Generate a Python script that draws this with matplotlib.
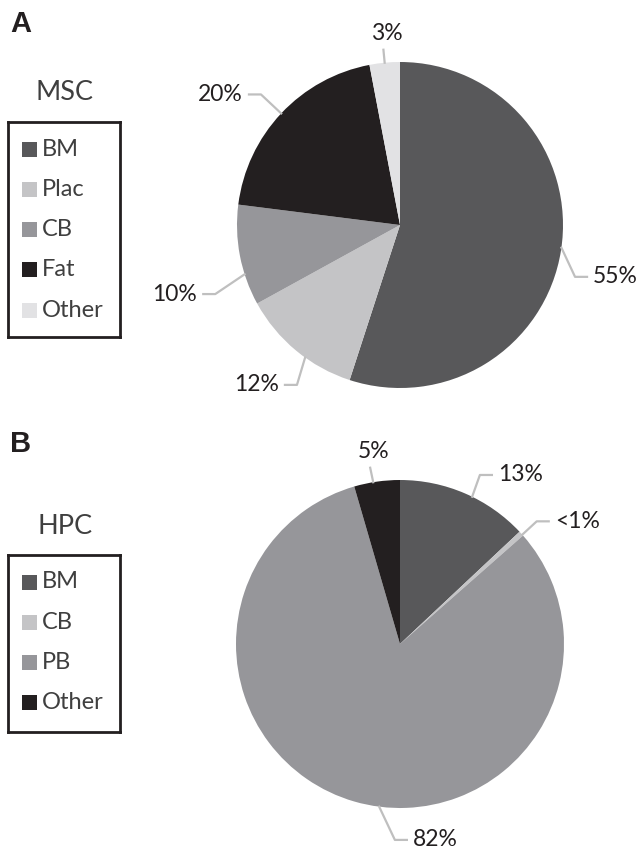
import matplotlib
matplotlib.use("Agg")
import matplotlib.pyplot as plt
import numpy as np

# data
msc_sources = ["BM", "Plac", "CB", "Fat", "Other"]
msc_values = [55, 12, 10, 20, 3]
msc_labels = ["55%", "12%", "10%", "20%", "3%"]
msc_colors = ["#58585a", "#c4c4c6", "#96969a", "#231f20", "#e2e2e4"]

hpc_sources = ["BM", "CB", "PB", "Other"]
hpc_values = [13, 0.5, 82, 4.5]
hpc_labels = ["13%", "<1%", "82%", "5%"]
hpc_colors = ["#58585a", "#c4c4c6", "#96969a", "#231f20"]

W, H = 644, 852
FONT = "Lato"
TXT = "#3f3f3f"
LEAD = "#bfbfbf"

fig = plt.figure(figsize=(W / 100, H / 100), dpi=100)


def px_axes(x, y, w, h):
    return fig.add_axes([x / W, 1 - (y + h) / H, w / W, h / H])


def draw_pie(cx, cy, r, values, colors, labels, layout):
    ax = px_axes(cx - r, cy - r, 2 * r, 2 * r)
    wedges, _ = ax.pie(values, colors=colors, startangle=90, counterclock=False,
                       wedgeprops=dict(linewidth=0))
    ax.set_xlim(-1, 1)
    ax.set_ylim(-1, 1)
    ax.set_aspect("equal")
    ax.axis("off")
    seg = 12 / r
    gap = 6 / r
    for w, lab, (s_shift, e_shift, e_r, side) in zip(wedges, labels, layout):
        mid = (w.theta1 + w.theta2) / 2
        a0 = np.radians(mid + s_shift)
        a1 = np.radians(mid + e_shift)
        x0, y0 = np.cos(a0), np.sin(a0)
        x1, y1 = e_r * np.cos(a1), e_r * np.sin(a1)
        if side == "up":
            ax.plot([x0, x1], [y0, y1], color=LEAD, lw=1.6, clip_on=False)
            ax.text(x1 + 3 / r, y1 + gap, lab, ha="center", va="bottom",
                    fontsize=16.5, family=FONT, color="#231f20")
        else:
            d = 1 if side == "right" else -1
            x2 = x1 + d * seg
            ax.plot([x0, x1, x2], [y0, y1, y1], color=LEAD, lw=1.6, clip_on=False)
            ax.text(x2 + d * gap, y1, lab, ha="left" if d > 0 else "right",
                    va="center", fontsize=16.5, family=FONT, color="#231f20")
    return ax


def draw_legend(x, y, w, h, names, colors, title):
    lg = px_axes(x, y, w, h)
    lg.set_xlim(0, w)
    lg.set_ylim(h, 0)
    lg.set_xticks([])
    lg.set_yticks([])
    for sp in lg.spines.values():
        sp.set_linewidth(2)
        sp.set_color("#231f20")
    for i, (n, c) in enumerate(zip(names, colors)):
        yy = 27 + i * 40.3
        lg.add_patch(plt.Rectangle((14, yy - 7.5), 15, 15, color=c, lw=0))
        lg.text(34, yy, n, va="center", ha="left", fontsize=17,
                family=FONT, color=TXT)
    fig.text((x + w / 2 + 1) / W, 1 - (y - 29) / H, title, ha="center",
             va="center", fontsize=19.5, family=FONT, color=TXT)


# panel A
msc_layout = [(1, -7.5, 1.12, "right"), (4, 6.8, 1.167, "left"),
              (6.8, 9.7, 1.21, "left"), (0, 0, 1.17, "left"), (0, 0, 1.08, "up")]
draw_pie(400, 225, 163, msc_values, msc_colors, msc_labels, msc_layout)
draw_legend(8, 122, 112, 215, msc_sources, msc_colors, "MSC")
fig.text(10 / W, 1 - 24 / H, "A", fontsize=21, fontweight="bold",
         family="Liberation Sans", va="center", ha="left", color="#231f20")

# panel B
hpc_layout = [(-2.7, -1.9, 1.14, "right"), (-0.5, -0.4, 1.12, "right"),
              (8.9, 14.7, 1.195, "right"), (1.3, 1.5, 1.09, "up")]
draw_pie(400, 644, 164, hpc_values, hpc_colors, hpc_labels, hpc_layout)
draw_legend(8, 555, 112, 177, hpc_sources, hpc_colors, "HPC")
fig.text(10 / W, 1 - 444 / H, "B", fontsize=21, fontweight="bold",
         family="Liberation Sans", va="center", ha="left", color="#231f20")

fig.savefig("out.png", dpi=100)
